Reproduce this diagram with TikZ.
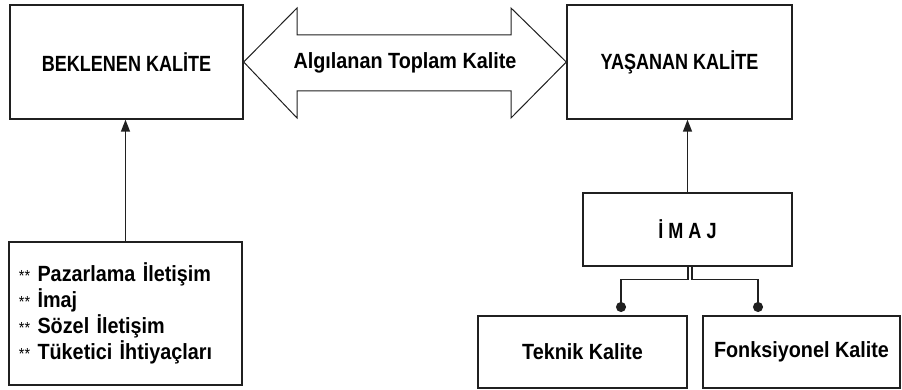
\documentclass[tikz,border=0pt]{standalone}
\usepackage{fontspec}
\setmainfont{Liberation Sans}[FakeStretch=0.82]
\newfontfamily\mixedfam{Liberation Sans}[FakeStretch=0.9]
\usetikzlibrary{arrows.meta}
\definecolor{ink}{HTML}{202020}
\tikzset{
  box/.style={draw=ink, line width=1.4pt, fill=white, inner sep=0pt,
    font=\fontsize{22}{26}\selectfont\bfseries},
  mixed/.style={font=\mixedfam\fontsize{22}{26}\selectfont\bfseries},
  uparrow/.style={draw=ink, line width=1.5pt, -{Triangle[length=12pt,width=9pt]}},
  dotline/.style={draw=ink, line width=1.5pt, -{Circle[length=10pt]}},
  bigarrow/.style={draw=ink, line width=1pt, fill=white, line join=miter},
  label/.style={inner sep=0pt},
}
\newcommand{\stars}{{\fontsize{16}{16}\selectfont\mdseries **}\ }
\begin{document}
\begin{tikzpicture}[x=1pt,y=-1pt]
  \useasboundingbox (0,0) rectangle (902,390);

  % top row
  \node[box, minimum width=233pt, minimum height=114pt] (bek) at (126.5,62) {BEKLENEN KALİTE};
  \node[box, minimum width=225pt, minimum height=114pt] (yas) at (679.5,62) {YAŞANAN KALİTE};

  % two-headed arrow between the quality boxes
  \draw[bigarrow] (bek.east) -- (297,8) -- (297,35) -- (511,35) -- (511,8)
    -- (yas.west) -- (511,118) -- (511,91) -- (297,91) -- (297,118) -- cycle;
  \node[label, mixed] (toplam) at (405,63) {Algılanan Toplam Kalite};

  % expectation sources
  \node[box, mixed, minimum width=233pt, minimum height=143pt, text width=213pt, align=left]
    (list) at (125.5,313.5)
    {\stars Pazarlama İletişim\\ \stars İmaj\\ \stars Sözel İletişim\\ \stars Tüketici İhtiyaçları};
  \draw[uparrow] (list.north) -- (list.north |- bek.south);

  % image and its components
  \node[box, minimum width=209pt, minimum height=73pt] (imaj) at (687.5,229.5) {İ M A J};
  \draw[uparrow] (imaj.north) -- (imaj.north |- yas.south);

  \node[box, mixed, minimum width=209pt, minimum height=72pt] (teknik) at (582.5,352) {Teknik Kalite};
  \node[box, mixed, minimum width=197pt, minimum height=72pt] (fonk) at (801.5,352) {Fonksiyonel Kalite};

  \coordinate (tdot) at (621,312);
  \coordinate (fdot) at (758,312);
  \draw[dotline] ([xshift=0.5pt]imaj.south) -- ++(0,13) -| (tdot);
  \draw[dotline] ([xshift=4.5pt]imaj.south) -- ++(0,13) -| (fdot);
\end{tikzpicture}
\end{document}
